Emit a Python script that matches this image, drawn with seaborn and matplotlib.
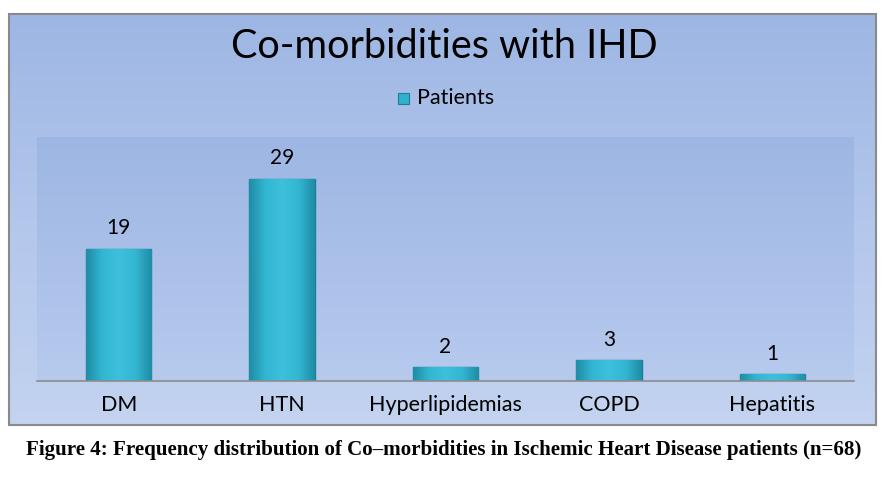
import numpy as np
import pandas as pd
import matplotlib
matplotlib.use('Agg')
import seaborn as sns
import matplotlib.pyplot as plt
from matplotlib.patches import Rectangle
from matplotlib.colors import LinearSegmentedColormap

categories = ['DM', 'HTN', 'Hyperlipidemias', 'COPD', 'Hepatitis']
patients = [19, 29, 2, 3, 1]

data = pd.DataFrame({'disease': categories, 'Patients': patients})

sns.set_theme(style='white')
plt.rcParams['font.family'] = ['Lato', 'DejaVu Sans']

fig = plt.figure(figsize=(8.92, 4.79), dpi=100)
W, H = 892, 479

# outer chart frame with vertical gradient
bg = fig.add_axes([0, 0, 1, 1], zorder=0)
bg.set_xlim(0, W)
bg.set_ylim(H, 0)
bg.axis('off')
grad = np.linspace(0, 1, 256).reshape(-1, 1)
outer_cmap = LinearSegmentedColormap.from_list('o', ['#9db6e3', '#b3c7ec', '#c3d3f0'])
bg.imshow(grad, cmap=outer_cmap, extent=[9, 876, 425, 14], aspect='auto', zorder=0)
bg.add_patch(Rectangle((9, 14), 867, 411, fill=False, edgecolor='#8a8a8a', lw=1.5, zorder=2))

# plot area
ax = fig.add_axes([37 / W, 1 - 381 / H, (854 - 37) / W, (381 - 137) / H], zorder=1)
inner_cmap = LinearSegmentedColormap.from_list('i', ['#9db6e3', '#b7caee'])
ax.imshow(grad, cmap=inner_cmap, extent=[-0.5, 4.5, 0, 35], aspect='auto', zorder=0)

sns.barplot(data=data, x='disease', y='Patients', color='#2fb0cc', width=0.4,
            edgecolor='#1c7f95', linewidth=1, saturation=1, ax=ax, zorder=2)

bar_cmap = LinearSegmentedColormap.from_list('b', ['#1f8ca5', '#33b6d2', '#3cc0dc', '#33b6d2', '#1f8ca5'])
hgrad = np.linspace(0, 1, 256).reshape(1, -1)
for p in ax.patches:
    x0, y0 = p.get_x(), p.get_y()
    w, h = p.get_width(), p.get_height()
    im = ax.imshow(hgrad, cmap=bar_cmap, extent=[x0, x0 + w, y0, y0 + h], aspect='auto', zorder=2.5)
    im.set_clip_path(p)
    ax.text(x0 + w / 2, y0 + h + 1.5, str(int(h)), ha='center', va='bottom', fontsize=15, color='black')

ax.set_xlim(-0.5, 4.5)
ax.set_ylim(0, 35)
ax.set_xlabel('')
ax.set_ylabel('')
ax.set_yticks([])
ax.tick_params(axis='x', length=0, labelsize=15.5, pad=10, colors='black')
for s in ['top', 'right', 'left']:
    ax.spines[s].set_visible(False)
ax.spines['bottom'].set_color('#8c8c8c')
ax.spines['bottom'].set_linewidth(1.2)

fig.text(444 / W, 1 - 47 / H, 'Co-morbidities with IHD', ha='center', va='center', fontsize=28.5, color='black')

# legend
fig.patches.append(Rectangle((398 / W, 1 - 104 / H), 11 / W, 11 / H, transform=fig.transFigure,
                             facecolor='#2fb0cc', edgecolor='#1c7f95', lw=0.8, zorder=3))
fig.text(417 / W, 1 - 98 / H, 'Patients', ha='left', va='center', fontsize=15.5, color='black')

fig.text(444 / W, 1 - 450 / H,
         'Figure 4: Frequency distribution of Co\u2013morbidities in Ischemic Heart Disease patients (n=68)',
         ha='center', va='center', fontsize=15.1, fontweight='bold', family=['Liberation Serif', 'DejaVu Serif'],
         color='black')

fig.savefig('out.png', dpi=100, facecolor='white')
